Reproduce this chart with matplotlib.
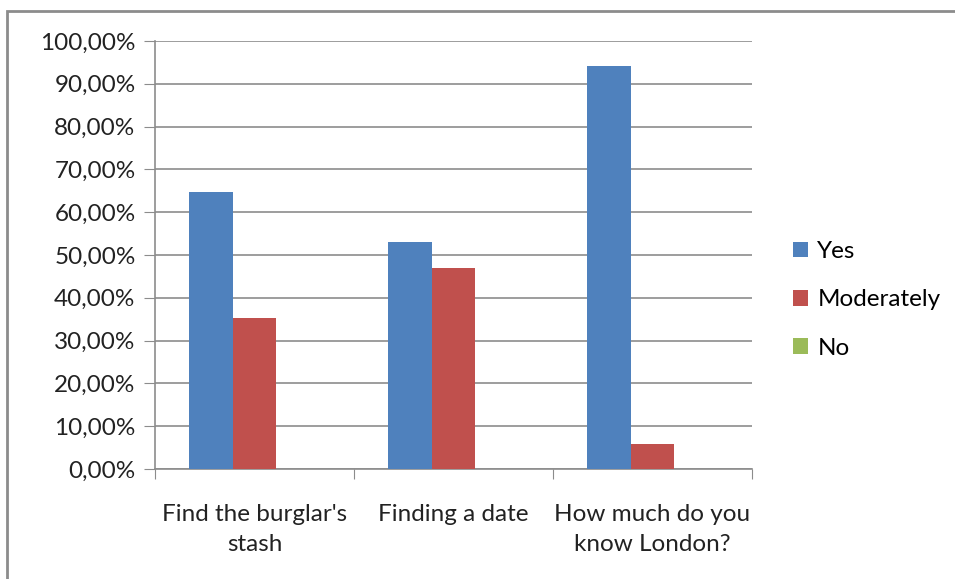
import numpy as np
import matplotlib
matplotlib.use("Agg")
import matplotlib.pyplot as plt
from matplotlib.patches import Rectangle

plt.rcParams["font.family"] = ["Lato", "DejaVu Sans"]

categories = ["Find the burglar's\nstash", "Finding a date", "How much do you\nknow London?"]
series = ["Yes", "Moderately", "No"]
yes = [64.7, 53.0, 94.1]
moderately = [35.3, 47.0, 5.9]
no = [0.0, 0.0, 0.0]
colors = ["#4F81BD", "#C0504D", "#9BBB59"]

W, H = 955, 579
fig = plt.figure(figsize=(W / 100, H / 100), dpi=100)
ax = fig.add_axes([155 / W, 1 - 469 / H, (752 - 155) / W, (469 - 41) / H])

x = np.arange(len(categories))
bw = 0.22
for k, (vals, name) in enumerate(zip([yes, moderately, no], series)):
    ax.bar(x + (k - 1) * bw, vals, bw, color=colors[k], label=name, zorder=3)

ax.set_xlim(-0.5, 2.5)
ax.set_ylim(0, 100)
ax.set_yticks(np.arange(0, 101, 10))
ax.set_yticklabels([f"{v},00%" for v in range(0, 101, 10)], fontsize=17.5, color="#222222")
ax.yaxis.grid(True, color="#8c8c8c", lw=1.2, zorder=0)
ax.set_xticks([-0.5, 0.5, 1.5, 2.5])
ax.set_xticklabels([])
ax.set_xticks(x, minor=True)
ax.set_xticklabels(categories, minor=True, fontsize=17.5, color="#222222", linespacing=1.55)
ax.tick_params(axis="x", which="minor", length=0, pad=25)
ax.tick_params(axis="x", which="major", length=7, color="#8c8c8c", direction="out")
ax.tick_params(axis="y", length=8, color="#8c8c8c", pad=6)
for s in ["top", "right"]:
    ax.spines[s].set_visible(False)
for s in ["left", "bottom"]:
    ax.spines[s].set_color("#8c8c8c")
    ax.spines[s].set_linewidth(1.2)

ax.legend(loc="center left", bbox_to_anchor=(793 / W, 1 - 300 / H),
          bbox_transform=fig.transFigure, frameon=False, fontsize=17.5,
          handlelength=0.6, handleheight=0.6, handletextpad=0.4,
          labelspacing=1.12, borderaxespad=0, borderpad=0)

fig.patches.append(Rectangle((7 / W, -0.1), 1.2, 1 - 11 / H + 0.1, transform=fig.transFigure,
                             fill=False, edgecolor="#8c8c8c", lw=2))

fig.savefig("out.png", dpi=100)
